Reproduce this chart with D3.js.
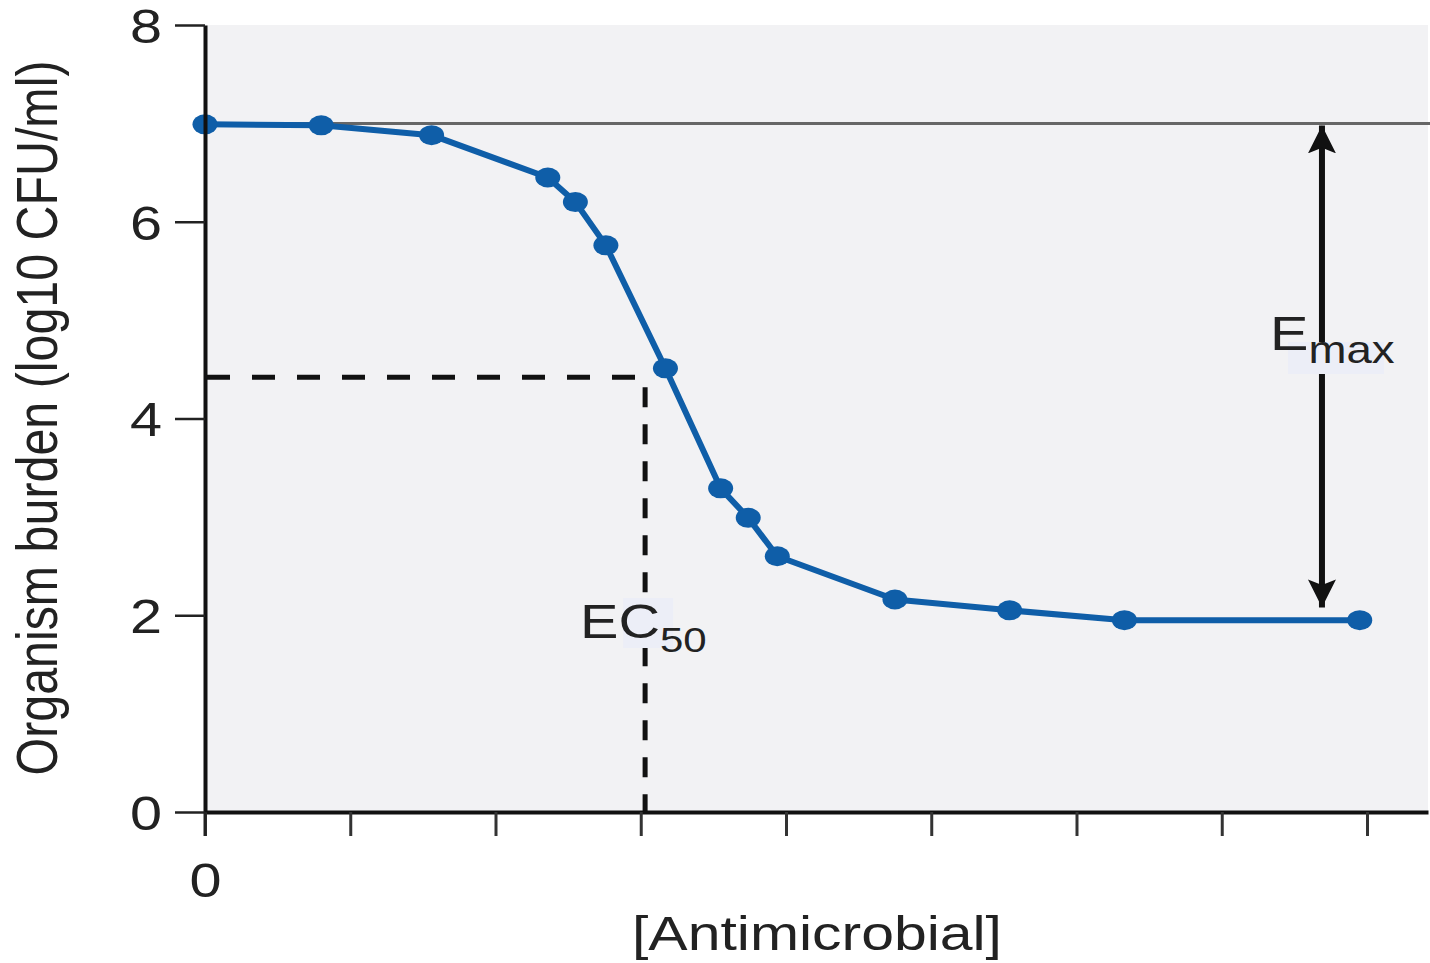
<!DOCTYPE html>
<html>
<head>
<meta charset="utf-8">
<script src="https://cdn.jsdelivr.net/npm/d3@7"></script>
<style>
  body { margin: 0; background: #fff; }
  text { font-family: "Liberation Sans", Arial, sans-serif; fill: #222; }
</style>
</head>
<body>
<div id="chart"></div>
<script>
// Data
var concentration = [0, 0.80, 1.56, 2.36, 2.55, 2.76, 3.17, 3.55, 3.74, 3.94, 4.75, 5.54, 6.33, 7.95];
var burden        = [6.99, 6.98, 6.88, 6.45, 6.2, 5.76, 4.51, 3.29, 2.99, 2.6, 2.16, 2.05, 1.95, 1.95];
var xTicks = [0, 1, 2, 3, 4, 5, 6, 7, 8];
var xTickLabels = ["0", "", "", "", "", "", "", "", ""];
var yTicks = [0, 2, 4, 6, 8];
var baseline = 7;          // untreated burden
var ec50 = {x: 3.03, y: 4.42};
var emaxArrow = {x: 7.69, from: 7, to: 2.08};

var width = 1430, height = 963;
var margin = {top: 25, right: 2, bottom: 151, left: 205};
var stretch = 1.2; // the source glyphs are a bit wider than Liberation Sans

var svg = d3.select("#chart")
  .append("svg")
    .attr("width", width)
    .attr("height", height);

var x = d3.scaleLinear()
    .domain([0, 8.42])
    .range([margin.left, width - margin.right]);

var y = d3.scaleLinear()
    .domain([0, 8])
    .range([height - margin.bottom, margin.top]);

// plot background
svg.append("rect")
  .attr("x", x(0) + 2)
  .attr("y", y(8))
  .attr("width", x(8.42) - x(0) - 2)
  .attr("height", y(0) - y(8))
  .attr("fill", "#f2f2f4");

// baseline at 7
svg.append("line")
  .attr("x1", x(0)).attr("x2", width)
  .attr("y1", y(baseline)).attr("y2", y(baseline))
  .attr("stroke", "#666").attr("stroke-width", 3);

// EC50 dashed guides
svg.append("line")
  .attr("x1", x(0) + 2).attr("x2", x(ec50.x) - 7)
  .attr("y1", y(ec50.y)).attr("y2", y(ec50.y))
  .attr("stroke", "#111").attr("stroke-width", 5)
  .attr("stroke-dasharray", "23 22");
svg.append("line")
  .attr("x1", x(ec50.x)).attr("x2", x(ec50.x))
  .attr("y1", y(ec50.y) + 10).attr("y2", y(0))
  .attr("stroke", "#111").attr("stroke-width", 5)
  .attr("stroke-dasharray", "20 17");

// Emax arrow
var defs = svg.append("defs");
defs.append("marker")
  .attr("id", "head")
  .attr("viewBox", "0 0 10 10")
  .attr("refX", 10).attr("refY", 5)
  .attr("markerUnits", "userSpaceOnUse")
  .attr("markerWidth", 28).attr("markerHeight", 30)
  .attr("orient", "auto-start-reverse")
  .append("path")
    .attr("d", "M0,0 L10,5 L0,10 L2,5 z")
    .attr("fill", "#111");

svg.append("line")
  .attr("x1", x(emaxArrow.x)).attr("x2", x(emaxArrow.x))
  .attr("y1", y(emaxArrow.from) + 2).attr("y2", y(emaxArrow.to))
  .attr("stroke", "#111").attr("stroke-width", 6)
  .attr("marker-start", "url(#head)")
  .attr("marker-end", "url(#head)");

// label backgrounds
svg.append("rect")
  .attr("x", x(emaxArrow.x) - 34).attr("y", 342)
  .attr("width", 96).attr("height", 32)
  .attr("fill", "#eceef7");
svg.append("rect")
  .attr("x", x(ec50.x) - 22).attr("y", 598)
  .attr("width", 50).attr("height", 50)
  .attr("fill", "#eceef7");

// curve
var pts = concentration.map(function(c, i) { return {c: c, b: burden[i]}; });
var line = d3.line()
  .x(function(d) { return x(d.c); })
  .y(function(d) { return y(d.b); });

svg.append("path")
  .datum(pts)
  .attr("d", line)
  .attr("fill", "none")
  .attr("stroke", "#0f5ea8")
  .attr("stroke-width", 6)
  .attr("stroke-linejoin", "round");

svg.append("g")
  .attr("fill", "#0f5ea8")
  .selectAll("ellipse")
  .data(pts)
  .join("ellipse")
    .attr("cx", function(d) { return x(d.c); })
    .attr("cy", function(d) { return y(d.b); })
    .attr("rx", 12.5)
    .attr("ry", 10);

// axes
function yAxis(g) {
  g.attr("transform", `translate(${x(0)},0)`)
    .call(d3.axisLeft(y).tickValues(yTicks).tickSize(30).tickPadding(0).tickSizeOuter(0));
  g.select(".domain").attr("stroke", "#111").attr("stroke-width", 4);
  g.selectAll(".tick line").attr("stroke", "#222").attr("stroke-width", 2.5);
  g.selectAll(".tick text")
    .attr("font-size", 48)
    .attr("x", -43 / stretch)
    .attr("dy", "0.36em")
    .attr("transform", `scale(${stretch},1)`)
    .style("fill", "#222");
}

function xAxis(g) {
  g.attr("transform", `translate(0,${y(0)})`)
    .call(d3.axisBottom(x).tickValues(xTicks)
      .tickFormat(function(d, i) { return xTickLabels[i]; })
      .tickSize(24).tickPadding(27).tickSizeOuter(0));
  g.select(".domain").attr("stroke", "#111").attr("stroke-width", 4);
  g.selectAll(".tick line").attr("stroke", "#333").attr("stroke-width", 3);
  g.selectAll(".tick text")
    .attr("font-size", 48)
    .attr("transform", `scale(${stretch},1)`)
    .style("fill", "#222");
}

svg.append("g").call(xAxis);
svg.append("g").call(yAxis);

// y-axis line runs on below the zero tick like the original
svg.append("line")
  .attr("x1", x(0)).attr("x2", x(0))
  .attr("y1", y(0)).attr("y2", y(0) + 24)
  .attr("stroke", "#222").attr("stroke-width", 3);

// axis titles
svg.append("g")
  .attr("transform", `translate(57,418) scale(${stretch},1) rotate(-90)`)
  .append("text")
    .attr("text-anchor", "middle")
    .attr("font-size", 48)
    .attr("textLength", 715)
    .attr("lengthAdjust", "spacingAndGlyphs")
    .text("Organism burden (log10 CFU/ml)");

svg.append("text")
  .attr("x", 817).attr("y", 950)
  .attr("text-anchor", "middle")
  .attr("font-size", 48)
  .attr("textLength", 370)
  .attr("lengthAdjust", "spacingAndGlyphs")
  .text("[Antimicrobial]");

// annotations
var emax = svg.append("text")
  .attr("transform", `translate(1270,350) scale(${stretch},1)`)
  .attr("font-size", 48);
emax.append("tspan").text("E");
emax.append("tspan").attr("font-size", 38).attr("dy", 13).text("max");

var ec = svg.append("text")
  .attr("transform", `translate(580,638) scale(${stretch},1)`)
  .attr("font-size", 48);
ec.append("tspan").text("EC");
ec.append("tspan").attr("font-size", 35).attr("dy", 14).text("50");
</script>
</body>
</html>
